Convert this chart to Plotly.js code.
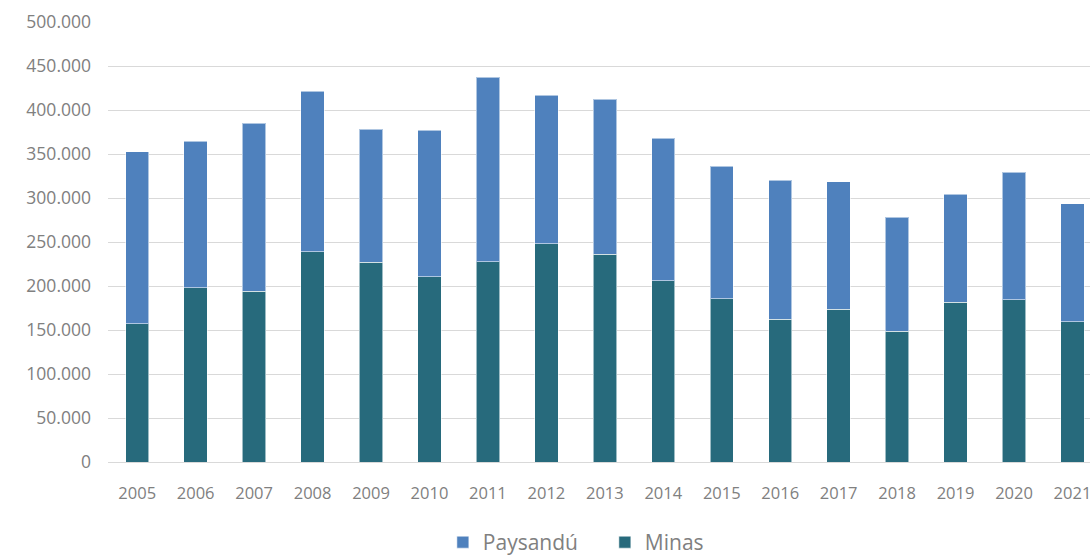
<!DOCTYPE html>
<html>
<head>
<meta charset="utf-8">
<script src="https://cdn.plot.ly/plotly-3.0.1.min.js"></script>
<style>html,body{margin:0;padding:0;background:#fff;}#chart{width:1090px;height:560px;}</style>
</head>
<body>
<div id="chart"></div>
<script>
const years = ["2005","2006","2007","2008","2009","2010","2011","2012","2013","2014","2015","2016","2017","2018","2019","2020","2021"];
const minas = [157000,198000,194000,239000,227000,210500,227500,248000,236000,206000,185500,162500,173500,148500,181500,184500,159500];
const paysandu = [195500,166500,191000,182500,151000,166500,210000,168500,176500,162000,150500,157500,145000,129500,123000,145000,134000];
const yTicks = [0,50000,100000,150000,200000,250000,300000,350000,400000,450000,500000];

const lineStyle = {color:'rgba(255,255,255,0.55)', width:1};
const data = [
  {type:'bar', name:'Minas', x:years, y:minas, marker:{color:'#276A7C', line:lineStyle}},
  {type:'bar', name:'Paysandú', x:years, y:paysandu, marker:{color:'#4F81BD', line:lineStyle}}
];
const layout = {
  width:1090, height:560,
  barmode:'stack', bargap:0.6,
  separators:',.',
  margin:{l:108, r:0, t:22, b:98, autoexpand:false},
  paper_bgcolor:'#fff', plot_bgcolor:'#fff',
  font:{family:'"Open Sans", Lato, sans-serif', color:'#808080', size:16},
  xaxis:{type:'category', range:[-0.5,16.3], showgrid:false, showline:true, linecolor:'#d9d9d9', ticks:'', ticklabelstandoff:16, tickfont:{size:16.5, color:'#808080'}},
  yaxis:{range:[0,500000], tickvals:yTicks, tickformat:',d', showgrid:true, gridcolor:'#d9d9d9', gridwidth:1, zeroline:false, showline:false, ticks:'', ticklabelstandoff:16, tickfont:{size:17.5, color:'#808080'}},
  showlegend:true,
  legend:{orientation:'h', traceorder:'reversed', x:0.341, xanchor:'left', y:-0.183, yanchor:'middle', font:{size:21, color:'#808080'}, itemwidth:30, entrywidth:117, entrywidthmode:'pixels'}
};
Plotly.newPlot('chart', data, layout, {displayModeBar:false, staticPlot:true});
</script>
</body>
</html>
